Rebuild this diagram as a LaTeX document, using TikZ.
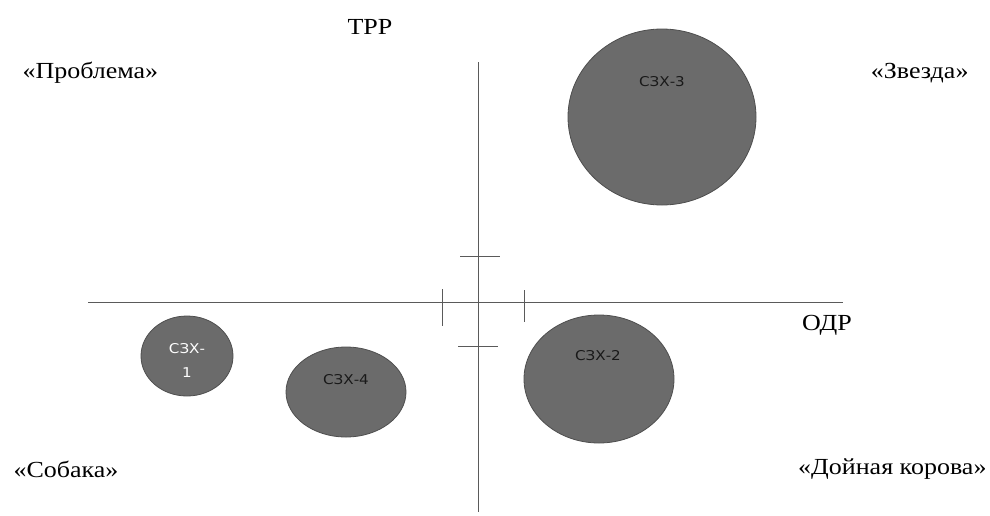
\documentclass[tikz,border=0pt]{standalone}
\usepackage{fontspec}
\setmainfont{Liberation Serif}
\newfontfamily\quadfont[FakeStretch=1.13]{Liberation Serif}
\newfontfamily\bubblefont[FakeStretch=1.12]{DejaVu Sans}
\usepackage{tikz}
\usetikzlibrary{positioning,calc,shapes.geometric}
\definecolor{cBub}{HTML}{6B6B6B}
\definecolor{cBubE}{HTML}{4E4E4E}
\definecolor{cAxis}{HTML}{5A5A5A}
\tikzset{
  axis/.style   ={draw=cAxis, line width=0.9pt},
  tick/.style   ={draw=cAxis, line width=0.9pt},
  bubble/.style ={ellipse, draw=cBubE, fill=cBub, line width=0.8pt, inner sep=0pt},
  blabel/.style ={font=\bubblefont\fontsize{13.5}{15}\selectfont, text=black!90, align=center},
  quad/.style   ={font=\quadfont\fontsize{23}{26}\selectfont, text=black},
}
\begin{document}
\begin{tikzpicture}[x=1pt,y=-1pt]

  % ---- frame ----
  \useasboundingbox (0,0) rectangle (990,515);

  % ---- axes ----
  \coordinate (ytop) at (478,62);
  \coordinate (ybot) at (478,512);
  \coordinate (xleft) at (88,302);
  \coordinate (xright) at (843,302);
  \draw[axis] (xleft) -- (xright);
  \draw[axis] (ytop) -- (ybot);

  % ---- ticks ----
  \coordinate (tu1) at (460,256); \coordinate (tu2) at (500,256);
  \coordinate (td1) at (458,346); \coordinate (td2) at (498,346);
  \coordinate (tl1) at (442,289); \coordinate (tl2) at (442,326);
  \coordinate (tr1) at (524,290); \coordinate (tr2) at (524,322);
  \draw[tick] (tu1) -- (tu2);
  \draw[tick] (td1) -- (td2);
  \draw[tick] (tl1) -- (tl2);
  \draw[tick] (tr1) -- (tr2);

  % ---- bubbles ----
  \node[bubble, minimum width=188pt, minimum height=176pt] (szx3) at (662,117) {};
  \node[bubble, minimum width=92pt, minimum height=80pt] (szx1) at (187,356) {};
  \node[bubble, minimum width=120pt, minimum height=90pt] (szx4) at (346,392) {};
  \node[bubble, minimum width=150pt, minimum height=128pt] (szx2) at (599,379) {};

  \node[blabel] at (662,82) {СЗХ-3};
  \node[blabel, text=white] at (187,360) {СЗХ-\\[9pt]1};
  \node[blabel] at (346,380) {СЗХ-4};
  \node[blabel] at (598,356) {СЗХ-2};

  % ---- axis names ----
  \node[quad] (trr) at (370,27) {ТРР};
  \node[quad] (odr) at (827,325) {ОДР};

  % ---- quadrants ----
  \node[quad, anchor=west] (problem) at (19,73) {«Проблема»};
  \node[quad, anchor=east] (star) at (972,73) {«Звезда»};
  \node[quad, anchor=west] (dog) at (10,469) {«Собака»};
  \node[quad, anchor=east] (cow) at (990,469) {«Дойная корова»};

\end{tikzpicture}
\end{document}
